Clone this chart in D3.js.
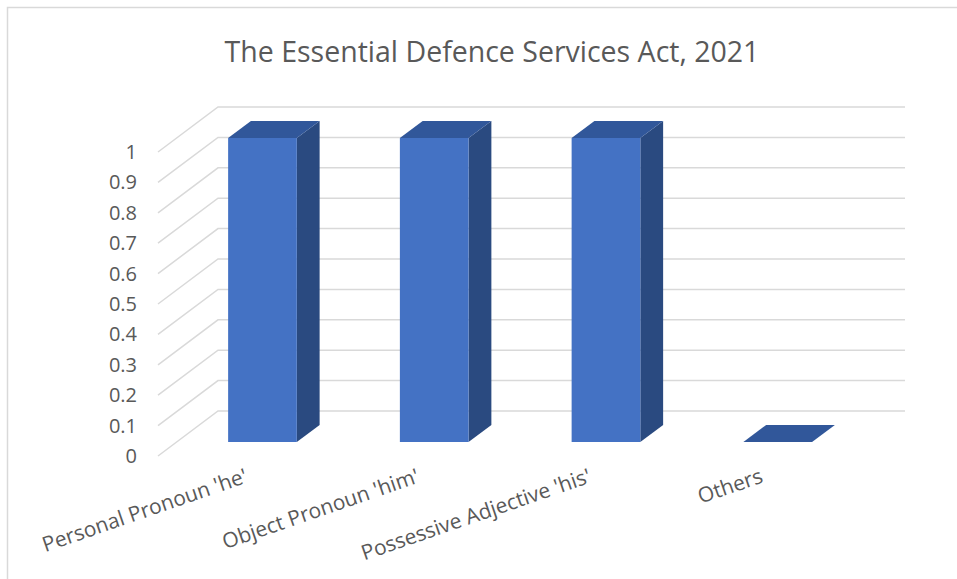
<!DOCTYPE html>
<html>
<head>
<meta charset="utf-8">
<script src="https://d3js.org/d3.v7.min.js"></script>
<style>
  body { margin: 0; background: #fff; }
  text { font-family: "Open Sans", sans-serif; fill: #595959; }
</style>
</head>
<body>
<div class="chart"></div>
<script>
// data
const categories = ["Personal Pronoun 'he'", "Object Pronoun 'him'", "Possessive Adjective 'his'", "Others"];
const values = [1, 1, 1, 0];
const yTicks = [0, 0.1, 0.2, 0.3, 0.4, 0.5, 0.6, 0.7, 0.8, 0.9, 1];
const title = "The Essential Defence Services Act, 2021";

const width = 957, height = 579;

const svg = d3.select(".chart").append("svg")
    .attr("width", width)
    .attr("height", height);

// chart border (right/bottom edges fall outside the picture)
svg.append("rect")
    .attr("x", 7.5).attr("y", 7.5)
    .attr("width", width + 20).attr("height", height + 20)
    .attr("fill", "none")
    .attr("stroke", "#d9d9d9")
    .attr("stroke-width", 1.5);

// wall depth offset (front plane -> back wall)
const depthX = 60, depthY = -45;
// bar sits between these depth fractions
const barD0 = 0.31, barD1 = 0.69;

// scales for the front plane
const x = d3.scaleBand()
    .domain(categories)
    .range([158, 845])
    .paddingInner(0.6)
    .paddingOuter(0.3);

const y = d3.scaleLinear()
    .domain([0, 1])
    .range([456, 152]);

// gridlines: diagonal on left, horizontal on back wall
const grid = svg.append("g").attr("class", "grid")
    .attr("stroke", "#d9d9d9")
    .attr("stroke-width", 1.5)
    .attr("fill", "none");

grid.selectAll("polyline")
    .data(yTicks)
    .enter().append("polyline")
    .attr("points", d => {
        const x0 = x.range()[0], y0 = y(d);
        return [[x0, y0], [x0 + depthX, y0 + depthY], [x.range()[1] + depthX, y0 + depthY]]
            .map(p => p.join(",")).join(" ");
    });

// y tick labels
svg.append("g")
    .selectAll("text")
    .data(yTicks)
    .enter().append("text")
    .attr("x", 137)
    .attr("y", d => y(d))
    .attr("dy", "0.35em")
    .attr("text-anchor", "end")
    .style("font-size", "20px")
    .text(d => d);

// 3d bars
const bars = svg.append("g").attr("class", "bars")
    .selectAll("g")
    .data(categories.map((c, i) => ({ cat: c, value: values[i] })))
    .enter().append("g");

function pt(xx, yy, f) {
    return [xx + depthX * f, yy + depthY * f];
}

bars.each(function(d) {
    const g = d3.select(this);
    const xl = x(d.cat), xr = x(d.cat) + x.bandwidth();
    const yt = y(d.value), yb = y(0);
    const poly = pts => pts.map(p => p.join(",")).join(" ");

    if (d.value > 0) {
        // side face
        g.append("polygon")
            .attr("points", poly([pt(xr, yt, barD0), pt(xr, yt, barD1), pt(xr, yb, barD1), pt(xr, yb, barD0)]))
            .attr("fill", "#2a4a80");
        // front face
        g.append("polygon")
            .attr("points", poly([pt(xl, yt, barD0), pt(xr, yt, barD0), pt(xr, yb, barD0), pt(xl, yb, barD0)]))
            .attr("fill", "#4472c4");
    }
    // top face
    g.append("polygon")
        .attr("points", poly([pt(xl, yt, barD0), pt(xr, yt, barD0), pt(xr, yt, barD1), pt(xl, yt, barD1)]))
        .attr("fill", "#31579a");
});

// category labels
svg.append("g")
    .selectAll("text")
    .data(categories)
    .enter().append("text")
    .attr("transform", d => `translate(${x(d) + x.bandwidth() / 2 + 5},${482}) rotate(-19)`)
    .attr("text-anchor", "end")
    .style("font-size", "21px")
    .text(d => d);

// title
svg.append("text")
    .attr("x", 492)
    .attr("y", 62)
    .attr("text-anchor", "middle")
    .style("font-size", "28.5px")
    .text(title);
</script>
</body>
</html>
